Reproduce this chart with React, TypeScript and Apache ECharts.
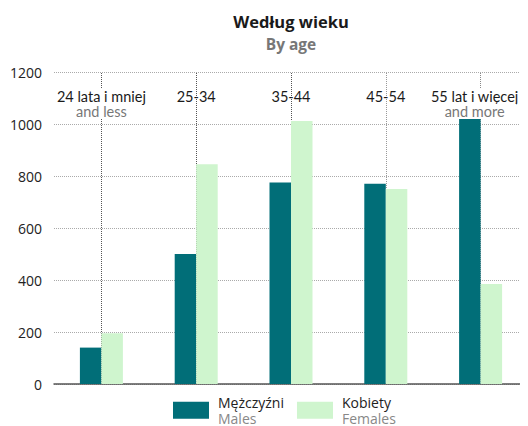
import React, { useEffect, useRef } from "react";
import * as echarts from "echarts";

const categories = ["24 lata i mniej", "25-34", "35-44", "45-54", "55 lat i więcej"];
const categorySubs = ["and less", "", "", "", "and more"];
const males = [140, 500, 775, 770, 1020];
const females = [195, 845, 1012, 750, 385];
const seriesNames = ["Mężczyźni", "Kobiety"];
const seriesSubs = ["Males", "Females"];
const yTicks = [0, 200, 400, 600, 800, 1000, 1200];

const FONT = "'Open Sans', 'Noto Sans', sans-serif";
const LABEL_FONT = "Lato, 'Open Sans', sans-serif";
const vLineColors = ["#555", "#555", "#555", "#999", "#888"];

export default function App() {
  const ref = useRef<HTMLDivElement>(null);
  useEffect(() => {
    if (!ref.current) return;
    const chart = echarts.init(ref.current, undefined, { renderer: "svg" });
    const lastIdx = categories.length - 1;
    chart.setOption({
      animation: false,
      textStyle: { fontFamily: FONT },
      title: {
        text: "Według wieku",
        subtext: "By age",
        left: 286,
        textAlign: "center",
        top: 8,
        itemGap: 6,
        textStyle: { fontSize: 16.5, fontWeight: "bold", color: "#1a1a1a", fontFamily: FONT },
        subtextStyle: { fontSize: 15.5, fontWeight: "bold", color: "#777", fontFamily: FONT },
      },
      legend: {
        bottom: 1,
        left: 173,
        padding: 0,
        itemWidth: 36,
        itemHeight: 17,
        itemGap: 13,
        icon: "rect",
        data: seriesNames,
        formatter: (name: string) => {
          const i = seriesNames.indexOf(name);
          return `{a|${name}}\n{b|${seriesSubs[i]}}`;
        },
        textStyle: {
          fontFamily: FONT,
          rich: {
            a: { fontSize: 14, color: "#222", lineHeight: 15.5, fontFamily: FONT, padding: [0, 0, 0, 4] },
            b: { fontSize: 14, color: "#888", lineHeight: 15.5, fontFamily: FONT, padding: [0, 0, 0, 4] },
          },
        },
      },
      grid: { left: 54, right: 0, top: 72, bottom: 42, outerBoundsMode: "none", containLabel: false },
      xAxis: [
        {
          type: "category",
          data: categories,
          position: "bottom",
          axisLine: { show: true, lineStyle: { color: "#555", width: 1.5 } },
          axisTick: { show: false },
          axisLabel: { show: false },
          splitLine: { show: false },
        },
        {
          type: "category",
          data: categories,
          position: "top",
          axisLine: { show: false },
          axisTick: { show: false },
          splitLine: { show: false },
          z: 4,
          axisLabel: {
            inside: true,
            margin: 17,
            interval: 0,
            formatter: (v: string, i: number) => {
              if (!categorySubs[i]) return `{a|${v}}`;
              const sfx = i === lastIdx ? "2" : "";
              return `{w${sfx}|${v}}\n{b${sfx}|${categorySubs[i]}}`;
            },
            rich: {
              a: { fontSize: 14.5, color: "#1a1a1a", lineHeight: 15, fontFamily: LABEL_FONT },
              w: { fontSize: 14.5, color: "#1a1a1a", lineHeight: 15, fontFamily: LABEL_FONT, backgroundColor: "#fff" },
              b: { fontSize: 14.5, color: "#777", lineHeight: 15, fontFamily: LABEL_FONT, backgroundColor: "#fff" },
              w2: { fontSize: 14.5, color: "#1a1a1a", lineHeight: 15, fontFamily: LABEL_FONT, backgroundColor: "#fff", padding: [0, 12, 0, 0] },
              b2: { fontSize: 14.5, color: "#777", lineHeight: 15, fontFamily: LABEL_FONT, backgroundColor: "#fff", padding: [0, 12, 0, 0] },
            },
          },
        },
      ],
      yAxis: {
        type: "value",
        min: yTicks[0],
        max: yTicks[yTicks.length - 1],
        interval: 200,
        axisLine: { show: false },
        axisTick: { show: false },
        axisLabel: {
          color: "#222",
          fontSize: 14,
          margin: 12,
          fontFamily: FONT,
          formatter: (v: number) => String(v),
        },
        splitLine: { lineStyle: { type: "dotted", color: "#aaa", width: 1 } },
      },
      series: [
        {
          name: seriesNames[0],
          type: "bar",
          data: males,
          barWidth: 21.5,
          barGap: "0%",
          itemStyle: { color: "#016E78" },
          z: 3,
        },
        {
          name: seriesNames[1],
          type: "bar",
          data: females,
          barWidth: 21.5,
          itemStyle: { color: "#CFF5CE" },
          z: 3,
        },
        {
          name: "guides",
          type: "line",
          data: [],
          z: 1,
          markLine: {
            silent: true,
            symbol: "none",
            z: 1,
            label: { show: false },
            data: categories.map((c, i) => ({
              xAxis: c,
              lineStyle: { type: "dotted", color: vLineColors[i], width: 1 },
            })),
          },
        },
      ],
    });
    return () => chart.dispose();
  }, []);
  return <div ref={ref} style={{ width: 528, height: 426, marginLeft: -8, marginTop: -8 }} />;
}
